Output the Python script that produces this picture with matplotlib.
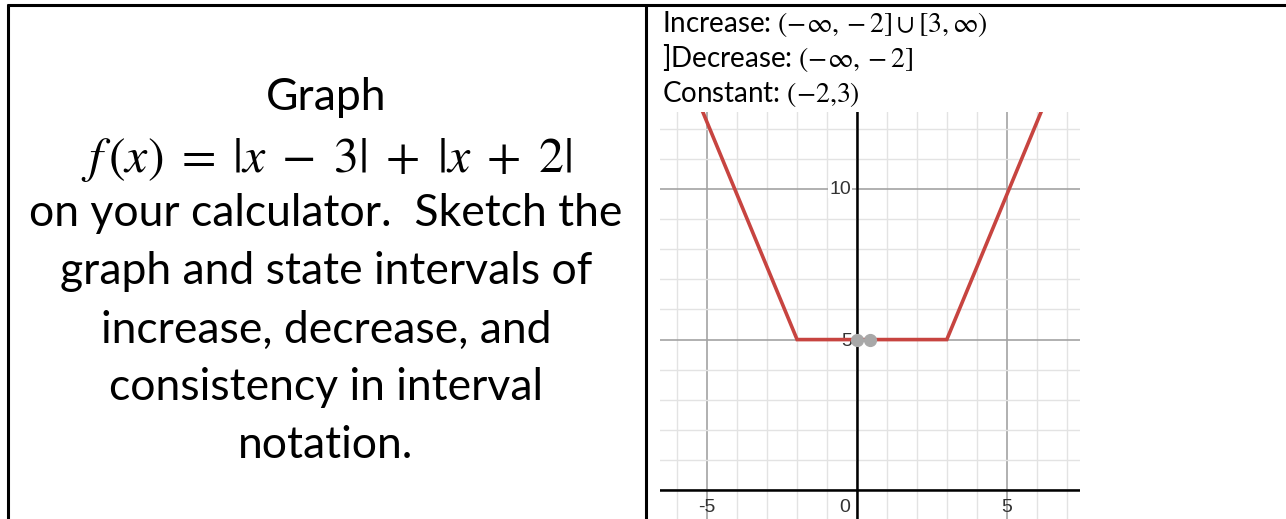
import matplotlib.pyplot as plt
from matplotlib.lines import Line2D

plt.rcParams['mathtext.fontset'] = 'stix'

# breakpoints of f(x) = |x - 3| + |x + 2|
xs = [-7, -2, 3, 8]
ys = [17, 5, 5, 17]
# highlighted points on the flat piece
pt_x = [0, 0.45]
pt_y = [5, 5]

question = ["Graph",
            r"$f\,(x)\;=\;|x\;-\;3|\;+\;|x\;+\;2|$",
            "on your calculator.  Sketch the",
            "graph and state intervals of",
            "increase, decrease, and",
            "consistency in interval",
            "notation."]
answers = [r"Increase: $(-\infty, -2] \cup [3, \infty)$",
           r"]Decrease: $(-\infty, -2]$",
           r"Constant: $(-2{,}3)$"]

W, H = 1286, 519
fig = plt.figure(figsize=(W / 100, H / 100), dpi=100)


def fx(px):
    return px / W


def fy(py):
    return 1 - py / H


# table borders
for (x0, y0), (x1, y1) in [((7, 5), (W, 5)), ((7.5, 4), (7.5, H)), ((646, 4), (646, H))]:
    fig.add_artist(Line2D([fx(x0), fx(x1)], [fy(y0), fy(y1)], color='black',
                          lw=2.2, transform=fig.transFigure, solid_capstyle='butt'))

# left cell
line_y = [97, 160, 213, 271, 330, 388, 445]
for txt, yy in zip(question, line_y):
    size = 36 if txt.startswith('$') else 32
    fig.text(fx(326), fy(yy), txt, ha='center', va='center', fontsize=size,
             family=['Lato', 'DejaVu Sans'], color='black')

# right cell header
for txt, yy in zip(answers, [32, 67, 102]):
    fig.text(fx(662), fy(yy), txt, ha='left', va='baseline', fontsize=20,
             family=['Lato', 'DejaVu Sans'], color='black')

# graph
ax = fig.add_axes([fx(660), 0, fx(1080) - fx(660), fy(112)])
ax.set_xlim(-6.58, 7.45)
ax.set_ylim(-0.96, 12.56)
for v in range(-7, 9):
    ax.axvline(v, color='#a3a3a3' if v % 5 == 0 else '#e3e3e3',
               lw=1.2 if v % 5 == 0 else 1.0, zorder=1)
for v in range(-1, 13):
    ax.axhline(v, color='#a3a3a3' if v % 5 == 0 else '#e3e3e3',
               lw=1.2 if v % 5 == 0 else 1.0, zorder=1)
ax.axhline(0, color='black', lw=1.8, zorder=2)
ax.axvline(0, color='black', lw=1.8, zorder=2)

tick_kw = dict(fontsize=14, family='Liberation Sans', color='#333333', zorder=3)
ax.text(-0.2, 10, '10', ha='right', va='center',
        bbox=dict(facecolor='white', edgecolor='none', pad=0.5), **tick_kw)
ax.text(-0.15, 4.95, '5', ha='right', va='center', **tick_kw)
ax.text(-0.4, -0.3, '0', ha='center', va='top', **tick_kw)
ax.text(-5, -0.3, '-5', ha='center', va='top', **tick_kw)
ax.text(5, -0.3, '5', ha='center', va='top', **tick_kw)

ax.plot(xs, ys, color='#c74440', lw=2.6, zorder=4, solid_joinstyle='miter')
ax.plot(pt_x, pt_y, 'o', color='#a8a8a8', ms=8.5, zorder=5)

ax.set_xticks([])
ax.set_yticks([])
for s in ax.spines.values():
    s.set_visible(False)

fig.savefig('out.png', dpi=100)
